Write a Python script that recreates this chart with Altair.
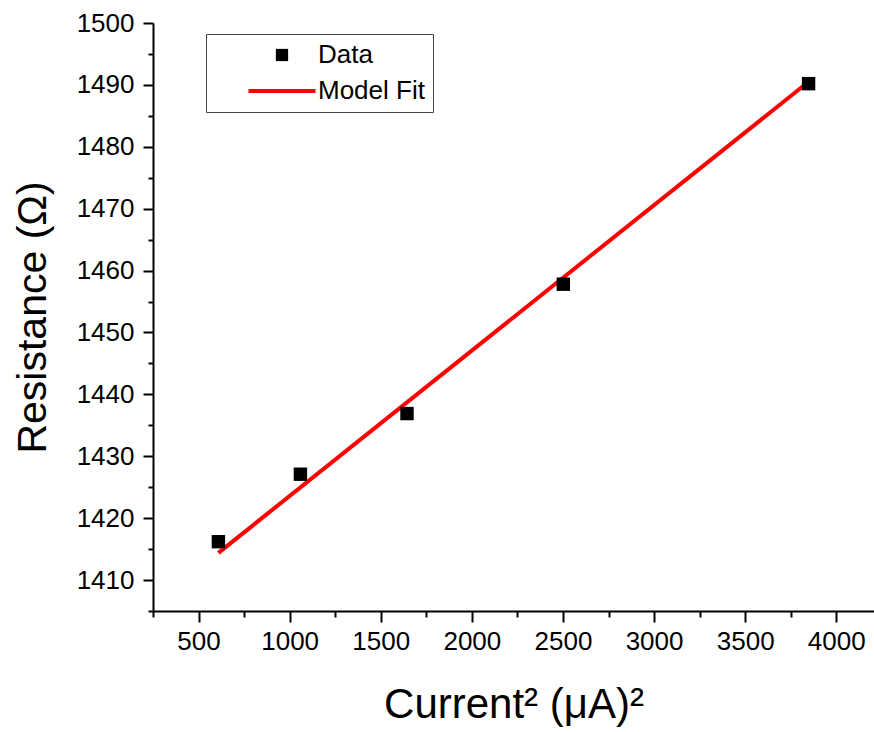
import altair as alt
import pandas as pd

FONT = "Liberation Sans"

# ---- data ----
current_sq = [609, 1059, 1644, 2502, 3848]              # (µA)^2
resistance = [1416.2, 1427.1, 1436.9, 1457.8, 1490.2]   # Ohm
fit_x = [609, 3848]
fit_y = [1414.4, 1490.5]
series = ["Data", "Model Fit"]

x_major = [500, 1000, 1500, 2000, 2500, 3000, 3500, 4000]
x_minor = [250, 750, 1250, 1750, 2250, 2750, 3250, 3750]
y_major = [1410, 1420, 1430, 1440, 1450, 1460, 1470, 1480, 1490, 1500]
y_minor = [1405, 1415, 1425, 1435, 1445, 1455, 1465, 1475, 1485, 1495]

data_df = pd.DataFrame({"current_sq": current_sq, "resistance": resistance, "series": "Data"})
fit_df = pd.DataFrame({"current_sq": fit_x, "resistance": fit_y, "series": "Model Fit"})

xscale = alt.Scale(domain=[250, 4207], nice=False, zero=False)
yscale = alt.Scale(domain=[1405, 1500], nice=False, zero=False)

common_axis = dict(
    grid=False, domainColor="black", domainWidth=2, tickColor="black", tickWidth=2,
    labelFont=FONT, labelFontSize=26, labelColor="black", format="d",
    titleFont=FONT, titleFontWeight="normal", titleColor="black",
)

x_axis_major = alt.Axis(values=x_major, title="Current² (μA)²", tickSize=11, titleFontSize=42,
                        labelPadding=6, titlePadding=30, orient="bottom", **common_axis)
y_axis_major = alt.Axis(values=y_major, title="Resistance (Ω)", tickSize=10, titleFontSize=41,
                        labelPadding=9, titlePadding=22, orient="left", **common_axis)
x_axis_minor = alt.Axis(values=x_minor, title=None, labels=False, domain=False, tickSize=6,
                        orient="bottom", grid=False, tickColor="black", tickWidth=2)
y_axis_minor = alt.Axis(values=y_minor, title=None, labels=False, domain=False, tickSize=5,
                        orient="left", grid=False, tickColor="black", tickWidth=2)

legend = alt.Legend(title=None, orient="none", legendX=53, legendY=11,
                    fillColor="white", strokeColor="#444444", padding=8,
                    labelFont=FONT, labelFontSize=26, labelColor="black",
                    labelExpr="datum.label + '\u00a0\u00a0\u00a0'",
                    symbolSize=150, symbolStrokeWidth=4, symbolOffset=55,
                    labelOffset=23, rowPadding=8)

points = alt.Chart(data_df).mark_point(filled=True, opacity=1, size=180).encode(
    x=alt.X("current_sq:Q", scale=xscale, axis=x_axis_major),
    y=alt.Y("resistance:Q", scale=yscale, axis=y_axis_major),
    fill=alt.Fill("series:N", scale=alt.Scale(domain=series, range=["black", "transparent"]), legend=legend),
    stroke=alt.Stroke("series:N", scale=alt.Scale(domain=series, range=["transparent", "red"]), legend=legend),
    shape=alt.Shape("series:N", scale=alt.Scale(domain=series, range=["square", "M-5.47,0H5.47"]), legend=legend),
)

fit_line = alt.Chart(fit_df).mark_line(color="red", strokeWidth=4).encode(
    x=alt.X("current_sq:Q", scale=xscale, axis=None),
    y=alt.Y("resistance:Q", scale=yscale, axis=None),
)

minor = alt.Chart(data_df).mark_point(opacity=0).encode(
    x=alt.X("current_sq:Q", scale=xscale, axis=x_axis_minor),
    y=alt.Y("resistance:Q", scale=yscale, axis=y_axis_minor),
)

chart = alt.layer(minor, fit_line, points).resolve_axis(
    x="independent", y="independent"
).properties(
    width=721, height=588,
    autosize=alt.AutoSizeParams(type="none"),
    padding={"left": 153, "top": 23, "right": 0, "bottom": 121},
    background="white",
).configure_view(stroke=None)

chart.save("out.html", embed_options={"renderer": "svg", "actions": False})
